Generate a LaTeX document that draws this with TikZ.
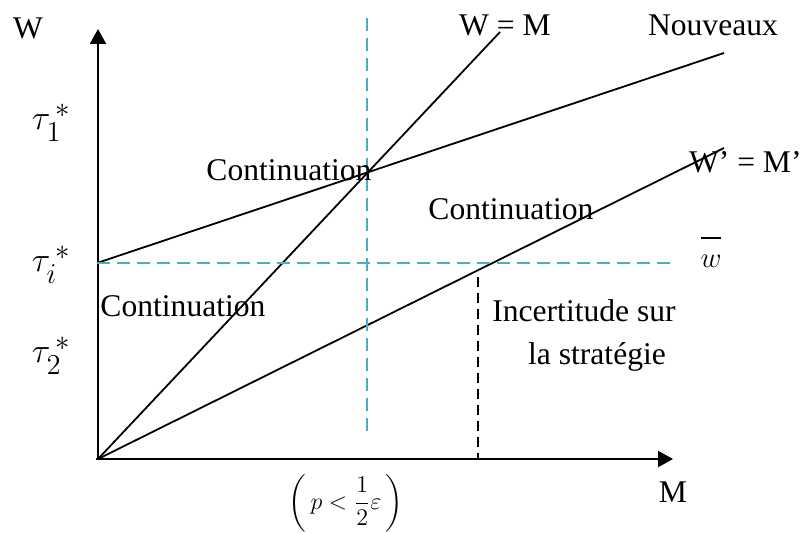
\documentclass[tikz,border=0pt]{standalone}
\usepackage{fontspec}
\setmainfont{Liberation Serif}
\usepackage{amsmath}
\usetikzlibrary{arrows.meta}

\begin{document}
\begin{tikzpicture}[x=.5pt,y=-.5pt,
  lbl/.style={inner sep=0pt,outer sep=0pt,font=\fontsize{15.8}{19}\selectfont},
  tau/.style={inner sep=0pt,outer sep=0pt,anchor=base west,font=\fontsize{19}{22}\selectfont},
  axe/.style={draw=black,line width=1.1pt,-{Triangle[length=7.5pt,width=8pt]}},
  droite/.style={draw=black,line width=0.9pt},
  tiret/.style={draw={rgb,255:red,75;green,172;blue,198},line width=1.1pt,dash pattern=on 6.5pt off 3.5pt},
  tiretnoir/.style={draw=black,line width=1.1pt,dash pattern=on 5pt off 3pt}]
\path[use as bounding box] (0,0) rectangle (801,533);
\path[fill=white,draw=none] (0,0) rectangle (801,533);
% points
\coordinate (O) at (98,459);
\coordinate (ytop) at (98,29);
\coordinate (xend) at (673,459);
\coordinate (ti) at (97,263);
\coordinate (nv) at (724,53);
\coordinate (wm) at (500,32);
\coordinate (wpm) at (724,148);
\coordinate (wend) at (672,263);
\coordinate (vtop) at (367,18);
\coordinate (vbot) at (367,437);
\coordinate (stop) at (478,277);
\coordinate (sbot) at (478,459);
% axes
\draw[axe] (O) -- (ytop);
\draw[axe] (96,459) -- (xend);
% droites
\draw[droite] (ti) -- (nv);
\draw[droite] (O) -- (wm);
\draw[droite] (O) -- (wpm);
% tirets
\draw[tiret] (ti) -- (wend);
\draw[tiret] (vtop) -- (vbot);
\draw[tiretnoir] (stop) -- (sbot);
% textes
\node[lbl] (W) at (28,28) {W};
\node[lbl] (M) at (673,492) {M};
\node[tau] (t1) at (32,130) {$\tau_{1}^{\,*}$};
\node[tau] (tii) at (32,272) {$\tau_{i}^{\,*}$};
\node[tau] (t2) at (32,363) {$\tau_{2}^{\,*}$};
\node[lbl] (lwm) at (505,25) {W = M};
\node[lbl] (lnv) at (713,25) {Nouveaux};
\node[lbl,anchor=west] (lwpm) at (689,162) {W’ = M’};
\node[lbl,anchor=base] (wbar) at (711,268) {$\overline{\rule{0pt}{13pt}w}$};
\node[lbl] (c1) at (289,170) {Continuation};
\node[lbl] (c2) at (511,209) {Continuation};
\node[lbl] (c3) at (183,306) {Continuation};
\node[lbl] (inc) at (584,311) {Incertitude sur};
\node[lbl] (strat) at (597,357) {la stratégie};
\node[inner sep=0pt,font=\fontsize{11.5}{13}\selectfont] (cond) at (346,503) {$\left(\,p<\dfrac{1}{2}\varepsilon\,\right)$};
\end{tikzpicture}
\end{document}
